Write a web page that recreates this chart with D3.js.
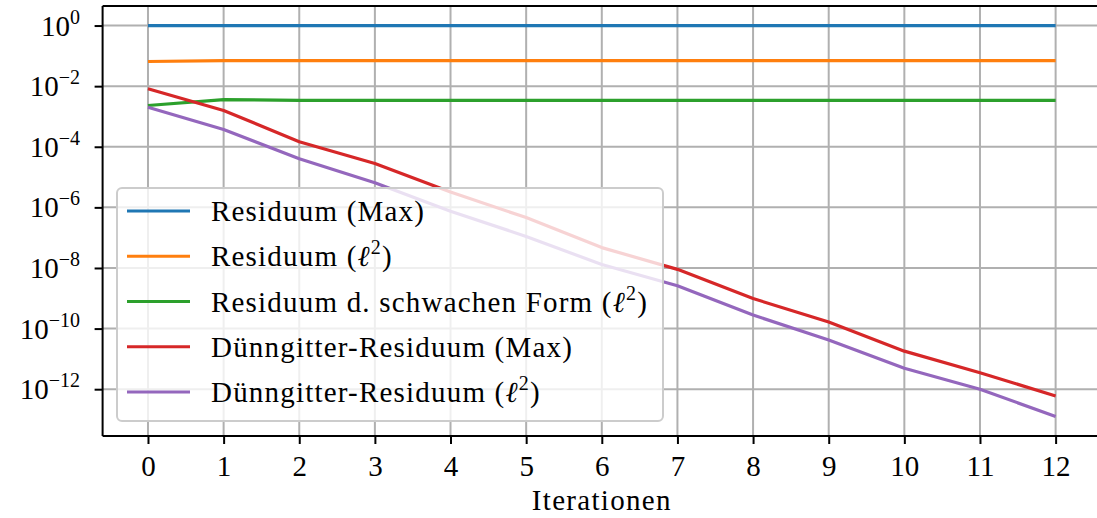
<!DOCTYPE html>
<html>
<head>
<meta charset="utf-8">
<script src="https://cdn.jsdelivr.net/npm/d3@7"></script>
<style>
  body { margin: 0; background: #fff; }
  text { font-family: "Liberation Serif", "DejaVu Serif", serif; fill: #000; }
</style>
</head>
<body>
<div id="graph"></div>
<script>
var iterations = [0, 1, 2, 3, 4, 5, 6, 7, 8, 9, 10, 11, 12]

var resMax   = [1, 1, 1, 1, 1, 1, 1, 1, 1, 1, 1, 1, 1]
var resL2    = [0.065, 0.070, 0.070, 0.070, 0.070, 0.070, 0.070, 0.070, 0.070, 0.070, 0.070, 0.070, 0.070]
var resWeak  = [2.3e-3, 3.6e-3, 3.4e-3, 3.4e-3, 3.4e-3, 3.4e-3, 3.4e-3, 3.4e-3, 3.4e-3, 3.4e-3, 3.4e-3, 3.4e-3, 3.4e-3]
var sgMax    = [8.2e-3, 1.58e-3, 1.46e-4, 2.8e-5, 3.2e-6, 4.6e-7, 4.7e-8, 9e-9, 9.8e-10, 1.65e-10, 1.8e-11, 3.5e-12, 6e-13]
var sgL2     = [2.0e-3, 3.7e-4, 4e-5, 6.5e-6, 7.5e-7, 1.1e-7, 1.3e-8, 2.6e-9, 2.8e-10, 4.2e-11, 4.9e-12, 1.0e-12, 1.26e-13]

var seriesNames = [
  ['Residuum (Max)'],
  ['Residuum (', 'ℓ', '2', ')'],
  ['Residuum d. schwachen Form (', 'ℓ', '2', ')'],
  ['Dünngitter-Residuum (Max)'],
  ['Dünngitter-Residuum (', 'ℓ', '2', ')']
]
var colors = ['#1f77b4', '#ff7f0e', '#2ca02c', '#d62728', '#9467bd']
var yTickExps = [0, -2, -4, -6, -8, -10, -12]
var xLabel = 'Iterationen'

var series = [resMax, resL2, resWeak, sgMax, sgL2].map((vals, i) => ({
  name: seriesNames[i], color: colors[i],
  values: vals.map((v, j) => ({x: iterations[j], y: v}))
}))

var W = 1097, H = 518
var FS = 29
var svg = d3.select('#graph').append('svg').attr('width', W).attr('height', H)

// log-space margins like matplotlib (5%)
var allY = series.flatMap(s => s.values.map(d => Math.log10(d.y)))
var lo = d3.min(allY), hi = d3.max(allY), pad = (hi - lo) * 0.05

var x = d3.scaleLinear().domain([-0.6, 12.6]).range([102.6, 1101])
var y = d3.scaleLog().domain([Math.pow(10, lo - pad), Math.pow(10, hi + pad)]).range([436, 6])

var plot = svg.append('g')

// grid
plot.selectAll('.gx').data(iterations).join('line')
  .attr('x1', d => x(d)).attr('x2', d => x(d)).attr('y1', 6).attr('y2', 436)
  .attr('stroke', '#b0b0b0').attr('stroke-width', 2)
plot.selectAll('.gy').data(yTickExps).join('line')
  .attr('x1', 102.6).attr('x2', W).attr('y1', d => y(Math.pow(10, d))).attr('y2', d => y(Math.pow(10, d)))
  .attr('stroke', '#b0b0b0').attr('stroke-width', 2)

// lines
var line = d3.line().x(d => x(d.x)).y(d => y(d.y))
plot.selectAll('.series').data(series).join('path')
  .attr('d', d => line(d.values))
  .attr('fill', 'none').attr('stroke', d => d.color).attr('stroke-width', 3.2)
  .attr('stroke-linejoin', 'round')

// spines
svg.append('line').attr('x1', 102.6).attr('x2', 102.6).attr('y1', 6).attr('y2', 436).attr('stroke', '#000').attr('stroke-width', 2)
svg.append('line').attr('x1', 102.6).attr('x2', W).attr('y1', 6).attr('y2', 6).attr('stroke', '#000').attr('stroke-width', 2)
svg.append('line').attr('x1', 102.6).attr('x2', W).attr('y1', 436).attr('y2', 436).attr('stroke', '#000').attr('stroke-width', 2)

// x axis
var xAxis = svg.append('g').attr('transform', 'translate(0,436)')
  .call(d3.axisBottom(x).tickValues(iterations).tickSize(8).tickFormat(d3.format('d')))
xAxis.select('.domain').remove()
xAxis.selectAll('.tick line').attr('stroke-width', 2)
xAxis.selectAll('.tick text').attr('dy', null).attr('y', 40)
  .style('font-size', FS + 'px').style('font-family', '"Liberation Serif", serif')

svg.append('text').attr('x', 601.8).attr('y', 510).attr('text-anchor', 'middle')
  .style('font-size', FS + 'px').style('letter-spacing', '1.3px').text(xLabel)

// y axis
var yAxis = svg.append('g').attr('transform', 'translate(102.6,0)')
  .call(d3.axisLeft(y).tickValues(yTickExps.map(e => Math.pow(10, e))).tickSize(8).tickFormat(''))
yAxis.select('.domain').remove()
yAxis.selectAll('.tick line').attr('stroke-width', 2)

var yl = svg.selectAll('.ylab').data(yTickExps).join('text')
  .attr('x', 80).attr('y', d => y(Math.pow(10, d)) + 10)
  .attr('text-anchor', 'end').style('font-size', FS + 'px')
yl.append('tspan').text('10')
yl.append('tspan').attr('dy', -12).style('font-size', '20px')
  .text(d => d === 0 ? '0' : '\u2212' + (-d))

// legend
var lg = svg.append('g')
lg.append('rect').attr('x', 117).attr('y', 188).attr('width', 546).attr('height', 233)
  .attr('rx', 5).attr('fill', 'rgba(255,255,255,0.8)').attr('stroke', '#cccccc').attr('stroke-width', 2)
var ly = d3.scalePoint().domain(d3.range(series.length)).range([211, 392])
var items = lg.selectAll('.item').data(series).join('g')
  .attr('transform', (d, i) => `translate(0,${ly(i)})`)
items.append('line').attr('x1', 127).attr('x2', 190)
  .attr('stroke', d => d.color).attr('stroke-width', 3.2)
var lt = items.append('text').attr('x', 211).attr('y', 10)
  .style('font-size', FS + 'px').style('letter-spacing', '1.2px')
lt.each(function(d) {
  var t = d3.select(this), parts = d.name
  t.append('tspan').text(parts[0])
  if (parts.length > 1) {
    t.append('tspan').style('font-style', 'italic').text(parts[1])
    t.append('tspan').attr('dy', -12).style('font-size', '20px').text(parts[2])
    t.append('tspan').attr('dy', 12).text(parts[3])
  }
})
</script>
</body>
</html>
